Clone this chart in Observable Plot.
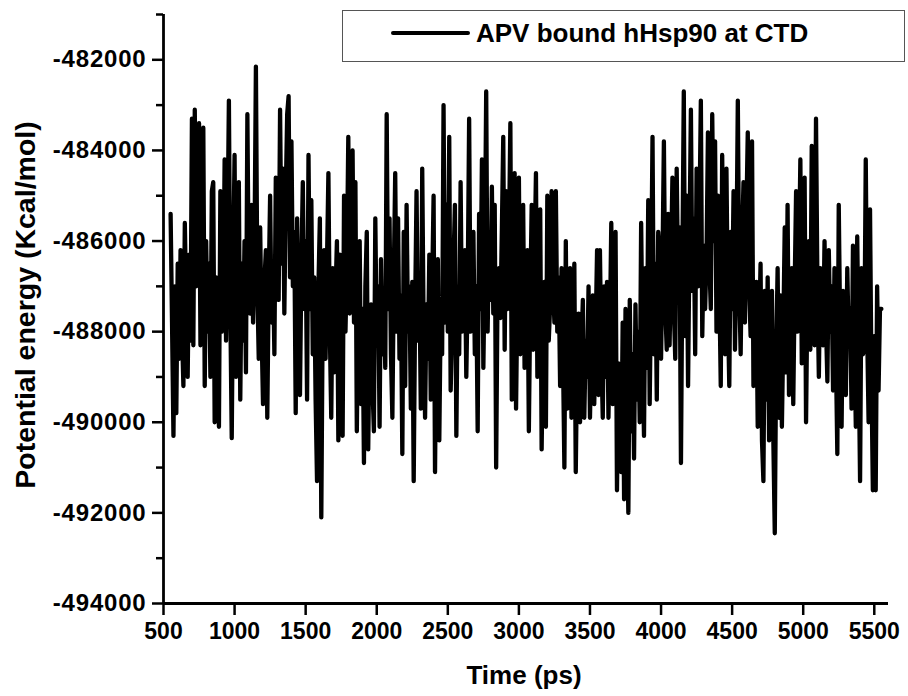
<!DOCTYPE html>
<html>
<head>
<meta charset="utf-8">
<script src="https://cdn.jsdelivr.net/npm/d3@7"></script>
<script src="https://cdn.jsdelivr.net/npm/@observablehq/plot@0.6"></script>
<style>
  html, body { margin: 0; padding: 0; background: #fff; }
  #wrap { position: relative; width: 908px; height: 696px; font-family: "Liberation Sans", Arial, sans-serif; }
  #wrap svg { font-family: "Liberation Sans", Arial, sans-serif; }
  #wrap svg g[aria-label="y-axis tick label"] text { letter-spacing: 0.8px; }
  #legend { position: absolute; left: 342px; top: 10px; width: 561px; height: 50px;
            border: 1.5px solid #555; background: #fff; box-sizing: content-box; }
  #legend svg { position: absolute; left: 0; top: 0; }
  #legend span { position: absolute; left: 133px; top: 7px; font-size: 26px; font-weight: bold; color: #000; white-space: nowrap; }
</style>
</head>
<body>
<div id="wrap"></div>
<script>
// ---- Data ----
const seriesName = "APV bound hHsp90 at CTD";
const xTitle = "Time (ps)";
const yTitle = "Potential energy (Kcal/mol)";
const timeStartPs = 550;   // first sample
const timeStepPs = 10;     // sampling interval
// Potential energy (Kcal/mol), one value per 10 ps from 550 ps to 5550 ps
const energy = [
  -485400,-487800,-490300,-487000,-489800,-486500,-488600,-486200,-488000,-489200, // 550
  -485600,-487500,-489000,-486300,-488200,-483300,-488300,-483100,-487000,-484000, // 650
  -483400,-488300,-485200,-483500,-489200,-486000,-488000,-486500,-489000,-484900, // 750
  -484700,-490000,-486800,-488400,-490100,-484900,-488000,-487700,-484200,-488200, // 850
  -486000,-482900,-487500,-490350,-486500,-484100,-489000,-486300,-484700,-489500, // 950
  -486500,-488200,-486000,-488900,-483200,-487000,-487600,-485200,-487800,-486200, // 1050
  -482150,-487000,-488600,-485700,-488000,-489600,-486900,-486200,-489900,-487000, // 1150
  -485000,-487800,-486500,-488500,-484600,-487000,-487300,-483100,-486500,-484400, // 1250
  -487600,-485000,-483200,-482800,-486800,-483800,-487000,-485800,-489800,-485500, // 1350
  -488000,-489400,-486500,-484700,-487500,-486000,-489500,-484100,-487500,-485100, // 1450
  -488500,-486800,-489500,-491300,-487000,-485500,-492100,-487500,-486200,-488600, // 1550
  -486500,-484500,-488000,-489900,-486600,-488900,-487200,-486000,-490400,-486300, // 1650
  -488500,-490300,-485000,-488000,-486500,-483700,-487600,-485500,-484000,-487800, // 1750
  -484700,-490200,-487000,-486000,-489600,-487500,-490900,-487000,-485800,-490600, // 1850
  -488000,-487400,-489200,-490200,-485500,-488300,-487000,-490100,-486400,-488500, // 1950
  -487200,-488800,-483200,-487500,-485500,-488500,-489900,-486800,-484500,-488000, // 2050
  -485500,-488600,-487200,-490700,-485800,-489200,-485200,-488000,-487000,-489700, // 2150
  -486900,-491300,-487500,-484900,-488200,-486800,-489700,-484400,-488000,-489900, // 2250
  -487400,-488600,-486300,-489500,-487000,-485000,-491100,-487500,-486400,-490400, // 2350
  -487500,-488500,-483000,-487800,-485200,-488000,-483700,-489300,-488000,-486500, // 2450
  -485200,-490300,-487000,-488500,-484700,-488000,-486800,-486200,-489000,-487000, // 2550
  -483300,-488000,-486500,-485800,-488500,-487000,-490200,-485400,-487500,-484200, // 2650
  -488800,-486500,-482700,-488000,-486000,-487300,-484800,-487600,-485200,-491000, // 2750
  -487000,-486600,-487700,-485800,-483700,-488400,-484900,-487500,-486000,-483400, // 2850
  -489500,-486500,-484500,-489700,-487000,-484600,-488500,-486500,-485200,-488800, // 2950
  -487000,-486200,-490200,-487300,-485200,-488400,-486500,-484500,-489000,-487000, // 3050
  -485300,-490600,-488000,-486900,-490100,-485000,-488200,-487400,-484900,-487000, // 3150
  -487800,-484900,-488000,-486800,-489200,-486600,-488500,-491000,-486000,-489700, // 3250
  -488000,-486600,-489900,-487800,-486500,-491100,-488500,-487600,-490000,-488300, // 3350
  -487300,-489900,-488200,-489000,-487000,-489900,-488300,-487200,-489600,-488000, // 3450
  -486200,-489400,-486200,-488500,-489900,-487000,-489000,-486900,-489900,-488000, // 3550
  -485600,-489600,-487500,-485800,-491500,-488700,-490000,-491100,-487800,-491700, // 3650
  -487500,-490000,-492000,-487300,-490200,-488500,-490800,-487400,-489500,-488000, // 3750
  -490000,-485600,-488500,-490300,-486600,-488800,-485100,-489600,-487000,-483700, // 3850
  -488500,-486500,-489500,-485800,-486300,-488600,-486500,-483800,-487500,-488400, // 3950
  -485400,-488300,-486500,-484600,-487500,-488600,-484400,-487000,-485700,-490900, // 4050
  -486500,-482700,-488100,-485000,-489200,-486000,-483100,-487100,-485500,-488500, // 4150
  -484400,-487000,-485500,-482900,-488100,-486100,-487500,-486300,-483600,-486500, // 4250
  -487500,-483200,-486000,-483800,-488000,-485000,-487000,-489200,-484100,-487000, // 4350
  -488500,-484400,-487500,-489200,-485800,-487500,-484900,-488400,-486500,-482900, // 4450
  -487000,-488500,-486000,-484700,-487800,-485500,-483600,-487000,-488100,-483800, // 4550
  -489200,-487500,-486900,-490100,-488000,-486500,-490400,-491300,-487100,-489500, // 4650
  -486800,-490400,-488500,-487100,-490400,-492450,-488500,-486600,-489900,-487200, // 4750
  -490100,-488000,-485700,-488900,-485200,-489400,-487500,-486600,-489600,-487000, // 4850
  -484900,-488000,-486500,-484200,-488700,-486500,-484600,-490000,-487000,-486000, // 4950
  -488400,-483900,-487000,-488300,-483300,-487000,-489000,-486600,-488000,-488300, // 5050
  -486000,-487800,-489100,-486200,-488000,-487000,-489300,-486600,-488500,-490700, // 5150
  -485200,-488000,-490100,-487100,-488500,-489400,-486600,-488200,-487500,-489700, // 5250
  -486100,-488000,-490100,-485900,-488500,-491300,-486600,-488500,-488400,-484200, // 5350
  -488000,-490000,-485300,-489000,-491500,-488100,-491500,-487000,-489300,-487500, // 5450
  -487500                                                                          // 5550
];
const xTicks = [500, 1000, 1500, 2000, 2500, 3000, 3500, 4000, 4500, 5000, 5500];
const yMajorTicks = [-494000, -492000, -490000, -488000, -486000, -484000, -482000];
const yMinorTicks = [-493000, -491000, -489000, -487000, -485000, -483000, -481000];
const xDomain = [500, 5600];
const yDomain = [-494000, -481000];

// table built from the arrays above
const rows = energy.map((e, i) => ({t: timeStartPs + i * timeStepPs, e}));

const chart = Plot.plot({
  width: 908,
  height: 696,
  marginLeft: 163,
  marginRight: 20,
  marginTop: 14,
  marginBottom: 93,
  style: {background: "#fff", overflow: "visible"},
  x: {domain: xDomain, label: null},
  y: {domain: yDomain, label: null},
  marks: [
    Plot.line(rows, {x: "t", y: "e", stroke: "#000", strokeWidth: 4.3}),
    Plot.axisY(yMinorTicks, {tickSize: 7, strokeWidth: 2.5, tickFormat: () => "", label: null}),
    Plot.axisY(yMajorTicks, {tickSize: 11, tickPadding: 6, strokeWidth: 2.5, tickFormat: d => String(d),
      fontSize: 24, fontWeight: "bold", fill: "#000", label: null}),
    Plot.axisX(xTicks, {tickSize: 12, tickPadding: 7, strokeWidth: 2.5, tickFormat: d => String(d),
      fontSize: 23, fontWeight: "bold", fill: "#000", label: null}),
    Plot.ruleX([xDomain[0]], {stroke: "#000", strokeWidth: 2.8}),
    Plot.ruleY([yDomain[0]], {stroke: "#000", strokeWidth: 2.8}),
    Plot.text([yTitle], {text: d => d, frameAnchor: "left", textAnchor: "middle", dx: -138, dy: -4, rotate: -90,
      fontSize: 28.5, fontWeight: "bold", fill: "#000"}),
    Plot.text([xTitle], {text: d => d, frameAnchor: "bottom", dx: -2, dy: 80,
      fontSize: 26, fontWeight: "bold", fill: "#000"})
  ]
});

const wrap = document.getElementById("wrap");
wrap.appendChild(chart);

// legend (drawn above the SVG)
const legend = document.createElement("div");
legend.id = "legend";
legend.innerHTML = `<svg width="140" height="50"><line x1="50" x2="125" y1="22" y2="22" stroke="#000" stroke-width="4" stroke-linecap="round"/></svg><span>${seriesName}</span>`;
wrap.appendChild(legend);
</script>
</body>
</html>
